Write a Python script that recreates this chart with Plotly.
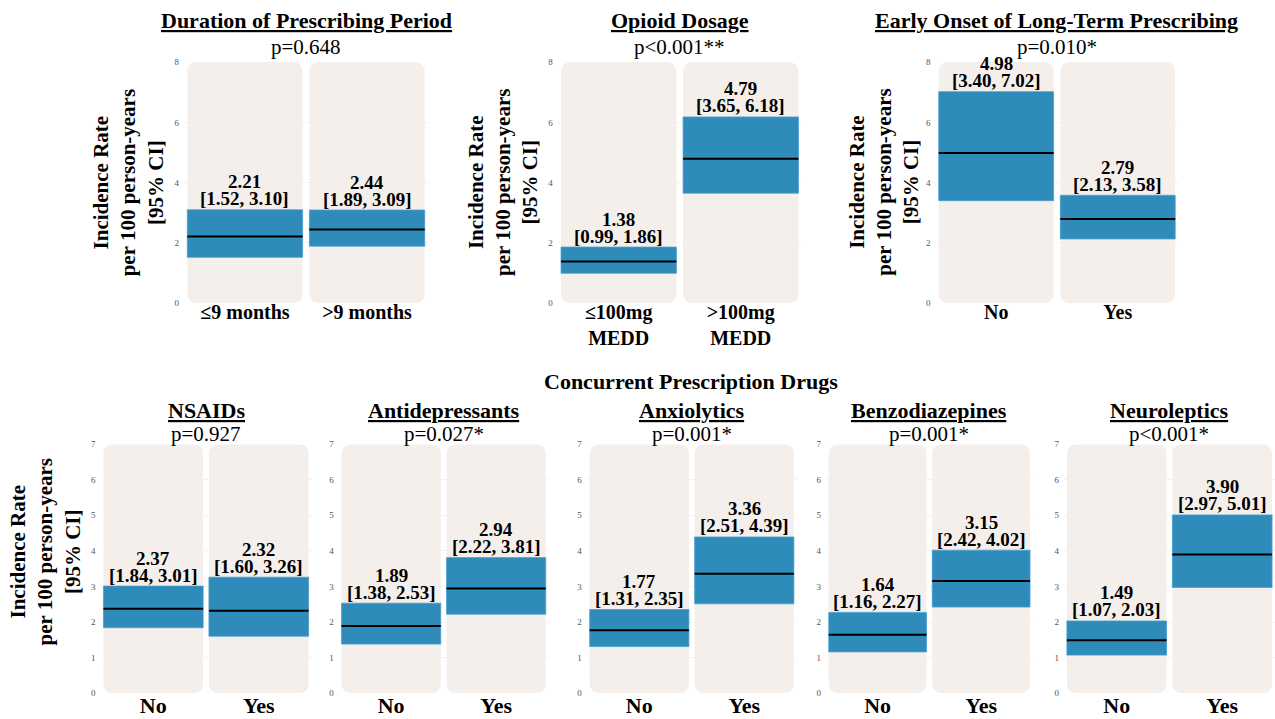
import plotly.graph_objects as go

# ---------------- data ----------------
panel_titles = ["Duration of Prescribing Period", "Opioid Dosage", "Early Onset of Long-Term Prescribing",
                "NSAIDs", "Antidepressants", "Anxiolytics", "Benzodiazepines", "Neuroleptics"]
p_values = ["p=0.648", "p<0.001**", "p=0.010*",
            "p=0.927", "p=0.027*", "p=0.001*", "p=0.001*", "p<0.001*"]
category_labels = [["≤9 months", ">9 months"],
                   ["≤100mg<br>MEDD", ">100mg<br>MEDD"],
                   ["No", "Yes"],
                   ["No", "Yes"], ["No", "Yes"], ["No", "Yes"], ["No", "Yes"], ["No", "Yes"]]
estimates = [[2.21, 2.44], [1.38, 4.79], [4.98, 2.79],
             [2.37, 2.32], [1.89, 2.94], [1.77, 3.36], [1.64, 3.15], [1.49, 3.90]]
ci_lower = [[1.52, 1.89], [0.99, 3.65], [3.40, 2.13],
            [1.84, 1.60], [1.38, 2.22], [1.31, 2.51], [1.16, 2.42], [1.07, 2.97]]
ci_upper = [[3.10, 3.09], [1.86, 6.18], [7.02, 3.58],
            [3.01, 3.26], [2.53, 3.81], [2.35, 4.39], [2.27, 4.02], [2.03, 5.01]]
y_max = [8, 8, 8, 7, 7, 7, 7, 7]
y_dtick = [2, 2, 2, 1, 1, 1, 1, 1]
section_title = "Concurrent Prescription Drugs"
y_title = "Incidence Rate<br>per 100 person-years<br>[95% CI]"
y_title_panels = [0, 1, 2, 3]

# ---------------- style / layout ----------------
W, H = 1275, 719
FONT = "Liberation Serif, Times New Roman, serif"
BLUE = "#2E8BBA"
BEIGE = "#F4EFEB"
x_dom_px = [(187, 430), (559, 802), (935, 1177),
            (104, 314), (341, 550), (588, 797), (826, 1032), (1063, 1273)]
y_dom_px = [(62, 303)] * 3 + [(444, 693)] * 5
y_title_x_px = {0: 132, 1: 505, 2: 884, 3: 49}
BAR_W = 0.945


def px2x(p):
    q = (p - 3.9) / 0.9954
    return min(max(q / W, 0), 1)


def px2y(p):
    q = (p - 4.9) / 0.986
    return min(max(1 - q / H, 0), 1)


fig = go.Figure()
annotations = []
layout_axes = {}

for i in range(len(panel_titles)):
    n = "" if i == 0 else str(i + 1)
    xa, ya = "x" + n, "y" + n
    cats = [0, 1]
    top = y_max[i]
    # background panels
    fig.add_trace(go.Bar(x=cats, y=[top, top], base=0, width=BAR_W, xaxis=xa, yaxis=ya,
                         marker=dict(color=BEIGE, cornerradius=9, line=dict(width=0)),
                         hoverinfo="skip", showlegend=False))
    # CI bars
    heights = [u - l for u, l in zip(ci_upper[i], ci_lower[i])]
    fig.add_trace(go.Bar(x=cats, y=heights, base=ci_lower[i], width=BAR_W, xaxis=xa, yaxis=ya,
                         marker=dict(color=BLUE, line=dict(color="#4A9FCF", width=0.8)),
                         showlegend=False))
    # estimate lines
    for c in cats:
        fig.add_trace(go.Scatter(x=[c - BAR_W / 2, c + BAR_W / 2], y=[estimates[i][c]] * 2,
                                 mode="lines", line=dict(color="black", width=2),
                                 xaxis=xa, yaxis=ya, showlegend=False, hoverinfo="skip"))
        annotations.append(dict(x=c, y=ci_upper[i][c], xref=xa, yref=ya, yanchor="middle",
                                yshift=11, showarrow=False,
                                text="[%.2f, %.2f]" % (ci_lower[i][c], ci_upper[i][c]),
                                font=dict(family=FONT, size=19, color="black", weight="bold")))
        annotations.append(dict(x=c, y=ci_upper[i][c], xref=xa, yref=ya, yanchor="middle",
                                yshift=28, showarrow=False, text="%.2f" % estimates[i][c],
                                font=dict(family=FONT, size=19, color="black", weight="bold")))

    x0, x1 = x_dom_px[i]
    ytop, ybot = y_dom_px[i]
    bottom_row = i >= 3
    layout_axes["xaxis" + n] = dict(domain=[px2x(x0), px2x(x1)], range=[-0.5, 1.5], anchor=ya,
                                    tickmode="array", tickvals=cats, ticktext=category_labels[i],
                                    showgrid=False, zeroline=False, showline=False, ticks="",
                                    ticklabelstandoff=-5 if not bottom_row else -3,
                                    tickfont=dict(family=FONT, size=22 if bottom_row else 20,
                                                  color="black", weight="bold"),
                                    fixedrange=True)
    layout_axes["yaxis" + n] = dict(domain=[px2y(ybot), px2y(ytop)], range=[0, top], anchor=xa,
                                    dtick=y_dtick[i], tick0=0, showgrid=True, gridcolor="#F2F2F2",
                                    gridwidth=1, zeroline=False, showline=False, ticks="",
                                    ticklabelstandoff=4,
                                    tickfont=dict(family=FONT, size=9, color="#555555"),
                                    fixedrange=True)
    xc = (x0 + x1) / 2
    title_y = 20 if not bottom_row else 410
    p_y = 47 if not bottom_row else 434
    annotations.append(dict(x=px2x(xc), y=px2y(title_y), xref="paper", yref="paper", showarrow=False,
                            xanchor="center", yanchor="middle", text=panel_titles[i],
                            font=dict(family=FONT, size=22, color="black", weight="bold",
                                      lineposition="under")))
    annotations.append(dict(x=px2x(xc), y=px2y(p_y), xref="paper", yref="paper", showarrow=False,
                            xanchor="center", yanchor="middle", text=p_values[i],
                            font=dict(family=FONT, size=21, color="black")))
    if i in y_title_panels:
        yc = (ytop + ybot) / 2 if not bottom_row else 552
        annotations.append(dict(x=px2x(y_title_x_px[i]), y=px2y(yc), xref="paper", yref="paper",
                                showarrow=False, textangle=-90, xanchor="center", yanchor="middle",
                                text=y_title,
                                font=dict(family=FONT, size=21, color="black", weight="bold")))

annotations.append(dict(x=px2x(692), y=px2y(381), xref="paper", yref="paper", showarrow=False,
                        xanchor="center", yanchor="middle", text=section_title,
                        font=dict(family=FONT, size=22, color="black", weight="bold")))

fig.update_layout(width=W, height=H, margin=dict(l=0, r=0, t=0, b=0),
                  paper_bgcolor="white", plot_bgcolor="white", barmode="overlay",
                  showlegend=False, annotations=annotations, **layout_axes)

post = ("var s=document.documentElement.style;s.margin='0';s.padding='0';s.overflow='hidden';"
        "s.width='1275px';s.height='719px';"
        "var b=document.body.style;b.margin='0';b.padding='0';b.overflow='hidden';"
        "b.width='1275px';b.height='719px';")
fig.write_html("out.html", post_script=post, config={"displayModeBar": False})
